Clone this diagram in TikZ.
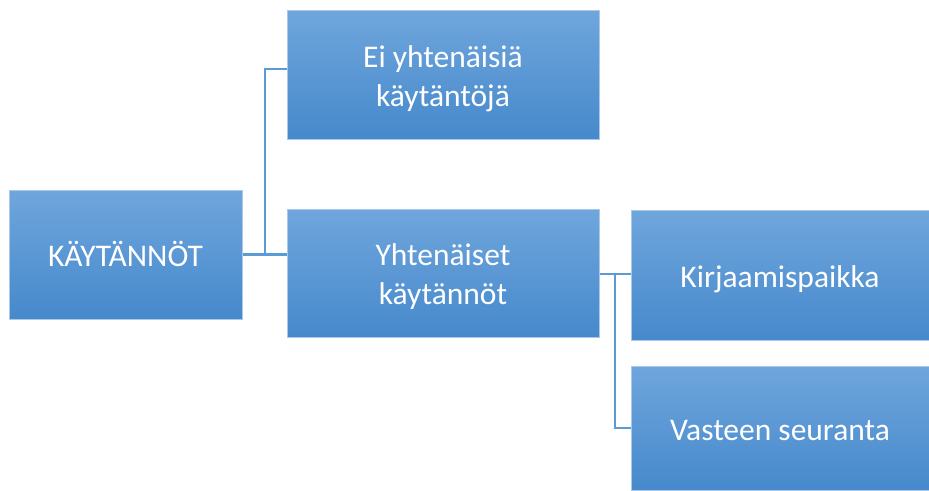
\documentclass[tikz,border=0pt]{standalone}
\usepackage{fontspec}
\setmainfont{Carlito}
\definecolor{boxtop}{HTML}{6FA6DC}
\definecolor{boxbot}{HTML}{4689CC}
\definecolor{boxedge}{HTML}{A9C8EA}
\definecolor{linkc}{HTML}{5B9BD5}
\tikzset{
  lohko/.style={rectangle,draw=boxedge,line width=1pt,top color=boxtop,bottom color=boxbot,
    text=white,font=\fontsize{31.5}{39}\selectfont,align=center,inner sep=0pt,
    execute at begin node={\rule{0pt}{33pt}},
    execute at end node={\rule[-9pt]{0pt}{9pt}}},
  kaksirivi/.style={text height=72pt},
  linkki/.style={draw=linkc,line width=2.8pt}
}
\begin{document}
\begin{tikzpicture}[x=1pt,y=-1pt]
\useasboundingbox (0,0) rectangle (929,490);
\node[lohko,minimum width=233pt,minimum height=129pt] (kay) at (125.5,254.5) {KÄYTÄNNÖT};
\node[lohko,kaksirivi,minimum width=312pt,minimum height=129pt] (ei) at (443,74.5) {Ei yhtenäisiä\\käytäntöjä};
\node[lohko,kaksirivi,minimum width=312pt,minimum height=128pt] (yht) at (443,273) {Yhtenäiset\\käytännöt};
\node[lohko,minimum width=298pt,minimum height=130pt] (kir) at (780,275) {Kirjaamispaikka};
\node[lohko,minimum width=298pt,minimum height=124pt] (vas) at (780,428) {Vasteen seuranta};
\coordinate (j1) at (265,254.5);
\coordinate (j2) at (615,274);
\draw[linkki] (kay.east) -- (kay.east -| yht.west);
\draw[linkki] (j1) |- ([yshift=5.5pt]ei.west);
\draw[linkki] (yht.east |- j2) -- (j2 -| kir.west);
\draw[linkki] (j2) |- (vas.west);
\end{tikzpicture}
\end{document}
